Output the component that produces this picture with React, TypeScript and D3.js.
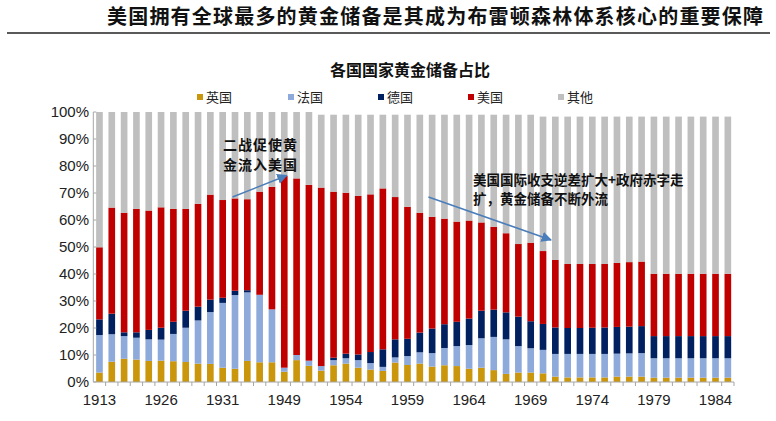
import React from "react";
import * as d3 from "d3";

const years = [
  "1913", "1921", "1922", "1923", "1924", "1926", "1927", "1928", "1929", "1930",
  "1931", "1932", "1935", "1938", "1945", "1949", "1950", "1951", "1952", "1953",
  "1954", "1955", "1956", "1957", "1958", "1959", "1960", "1961", "1962", "1963",
  "1964", "1965", "1966", "1967", "1968", "1969", "1970", "1971", "1972", "1973",
  "1974", "1975", "1976", "1977", "1978", "1979", "1980", "1981", "1982", "1983",
  "1984", "1985",
];
const tickYears = ["1913", "1926", "1931", "1949", "1954", "1959", "1964", "1969", "1974", "1979", "1984"];

const uk = [3.5, 7.5, 8.6, 8.3, 7.8, 7.9, 7.7, 7.4, 6.8, 6.7, 5.3, 4.9, 7.8, 7.3, 7.3, 3.8, 8.1, 6.0, 4.2, 6.2,
  6.8, 5.3, 4.6, 4.1, 7.2, 6.3, 6.8, 5.7, 6.2, 5.9, 4.9, 5.3, 4.4, 3.0, 3.5, 3.5, 3.2, 2.0, 1.7, 1.7,
  1.7, 1.7, 2.0, 2.0, 2.0, 1.6, 1.6, 1.6, 1.6, 1.6, 1.6, 1.6];
const france = [13.9, 10.2, 8.4, 8.1, 8.0, 7.8, 10.1, 12.7, 16.0, 19.2, 24.0, 27.3, 25.4, 25.0, 19.6, 1.5, 1.9, 1.9, 1.7, 1.9,
  2.0, 2.8, 2.4, 1.5, 1.9, 3.3, 4.2, 5.0, 6.4, 7.4, 8.8, 10.9, 12.3, 12.8, 9.8, 9.0, 8.7, 8.4, 8.7, 8.7,
  8.7, 8.7, 8.5, 8.6, 8.7, 7.2, 7.2, 7.2, 7.2, 7.2, 7.2, 7.2];
const germany = [5.8, 7.6, 1.4, 2.0, 3.5, 4.4, 4.5, 6.3, 5.1, 4.6, 1.9, 1.6, 0.8, 0, 0, 0, 0, 0, 0, 0.9,
  1.7, 2.1, 4.1, 6.5, 6.7, 6.4, 7.3, 9.1, 8.8, 9.0, 9.8, 10.2, 10.1, 10.0, 10.9, 10.0, 9.6, 9.8, 9.6, 9.6,
  9.7, 9.8, 9.9, 9.9, 10.0, 8.2, 8.2, 8.2, 8.2, 8.2, 8.2, 8.2];
const usa = [26.7, 39.3, 44.3, 45.7, 44.2, 44.6, 41.8, 37.7, 38.1, 38.9, 36.2, 34.2, 33.7, 38.2, 45.4, 71.0, 65.4, 65.1, 66.1, 61.5,
  59.6, 58.7, 58.4, 59.6, 52.7, 48.9, 44.4, 41.4, 39.1, 37.1, 36.3, 32.7, 30.7, 29.3, 26.9, 29.1, 27.0, 25.0, 23.7, 23.7,
  23.6, 23.5, 23.7, 23.9, 23.9, 23.1, 23.1, 23.1, 23.1, 23.1, 23.1, 23.1];
const others = [50.1, 35.4, 37.3, 35.9, 36.5, 35.3, 35.9, 35.9, 34.0, 30.6, 32.6, 32.0, 32.3, 29.5, 27.7, 23.7, 24.6, 27.0, 27.0, 28.5,
  28.9, 30.1, 29.5, 27.3, 30.5, 34.1, 36.3, 37.8, 38.5, 39.6, 39.2, 39.9, 41.5, 43.9, 47.9, 47.4, 49.8, 53.1, 54.6, 54.6,
  54.6, 54.6, 54.2, 53.9, 53.7, 58.2, 58.2, 58.2, 58.2, 58.2, 58.2, 58.2];

const seriesNames = ["英国", "法国", "德国", "美国", "其他"];
const seriesColors = ["#C9960C", "#8EAADB", "#002060", "#C00000", "#BFBFBF"];
const yTicks = [0, 10, 20, 30, 40, 50, 60, 70, 80, 90, 100];

const pageTitle = "美国拥有全球最多的黄金储备是其成为布雷顿森林体系核心的重要保障";
const chartTitle = "各国国家黄金储备占比";
const note1 = ["二战促使黄", "金流入美国"];
const note2 = ["美国国际收支逆差扩大+政府赤字走", "扩，黄金储备不断外流"];

const W = 776;
const H = 421;
const M = { left: 93.3, right: 734, top: 112, bottom: 382 };

export default function App() {
  const rows = years.map((y, i) => ({
    year: y,
    s0: uk[i], s1: france[i], s2: germany[i], s3: usa[i], s4: others[i],
  }));
  const keys = ["s0", "s1", "s2", "s3", "s4"];
  const stacked = d3.stack<any>().keys(keys)(rows);

  const x = d3.scaleBand<string>().domain(years).range([M.left, M.right]).paddingInner(0.46).paddingOuter(0.23);
  const y = d3.scaleLinear().domain([0, 100]).range([M.bottom, M.top]);
  const step = x.step();
  const bw = x.bandwidth();
  const cx = (yr: string, off = 0) => (x(yr) as number) + bw / 2 + off * step;

  const sans = "'Liberation Sans', Arial, sans-serif";
  const cjk = "'Noto Sans CJK SC', sans-serif";

  const legendX = [197, 288, 378, 468, 558];

  // annotation anchors via scales
  const a1 = { x1: cx("1931", 0.8), y1: y(68.5), x2: cx("1949", 0.2), y2: y(76.5) };
  const a2 = { x1: cx("1958", 2.7), y1: y(68.5), x2: cx("1969", 1.65), y2: y(52.6) };

  return (
    <svg width={W} height={H} style={{ position: "absolute", left: 0, top: 0, background: "#fff" }}>
      <defs>
        <marker id="arr" viewBox="0 0 10 10" refX="9" refY="5" markerWidth="7" markerHeight="7" orient="auto-start-reverse">
          <path d="M0,0 L10,5 L0,10 z" fill="#4A7EBB" />
        </marker>
      </defs>
      <text x={107} y={24} fontFamily={cjk} fontWeight={700} fontSize={20} letterSpacing={1.2} fill="#111">
        {pageTitle}
      </text>
      <line x1={7} x2={770} y1={33} y2={33} stroke="#595959" strokeWidth={2} />

      <text x={410} y={76} textAnchor="middle" fontFamily={cjk} fontWeight={700} fontSize={16} fill="#111">
        {chartTitle}
      </text>
      {seriesNames.map((n, i) => (
        <g key={n}>
          <rect x={legendX[i]} y={94} width={6} height={6} fill={seriesColors[i]} />
          <text x={legendX[i] + 9} y={102} fontFamily={cjk} fontSize={13} fill="#222">{n}</text>
        </g>
      ))}

      {stacked.map((s, si) => (
        <g key={si} fill={seriesColors[si]}>
          {s.map((d: any, i: number) => (
            <rect key={i} x={x(years[i])} width={bw} y={y(d[1])} height={Math.max(0, y(d[0]) - y(d[1]))} />
          ))}
        </g>
      ))}

      {/* y axis */}
      <line x1={M.left} x2={M.left} y1={M.top} y2={M.bottom} stroke="#A6A6A6" />
      {yTicks.map((t) => (
        <g key={t}>
          <line x1={M.left} x2={M.left + 3} y1={y(t)} y2={y(t)} stroke="#A6A6A6" />
          <text x={89} y={y(t) + 5} textAnchor="end" fontFamily={sans} fontSize={15} fill="#222">{t}%</text>
        </g>
      ))}

      {/* x axis */}
      <line x1={M.left} x2={M.right} y1={M.bottom} y2={M.bottom} stroke="#A6A6A6" />
      {years.map((yr, i) => (
        <line key={yr} x1={M.left + (i + 1) * step} x2={M.left + (i + 1) * step} y1={M.bottom} y2={M.bottom + 4} stroke="#A6A6A6" />
      ))}
      {tickYears.map((yr) => (
        <text key={yr} x={cx(yr)} y={405} textAnchor="middle" fontFamily={sans} fontSize={15} fill="#222">{yr}</text>
      ))}

      {/* annotations */}
      <line x1={a1.x1} y1={a1.y1} x2={a1.x2} y2={a1.y2} stroke="#4A7EBB" strokeWidth={1.5} markerEnd="url(#arr)" />
      <line x1={a2.x1} y1={a2.y1} x2={a2.x2} y2={a2.y2} stroke="#4A7EBB" strokeWidth={1.5} markerEnd="url(#arr)" />
      {note1.map((t, i) => (
        <text key={t} x={223} y={150 + i * 20} fontFamily={cjk} fontWeight={700} fontSize={14} letterSpacing={1} fill="#111">{t}</text>
      ))}
      {note2.map((t, i) => (
        <text key={t} x={473} y={185 + i * 19} fontFamily={cjk} fontWeight={700} fontSize={13.5} fill="#111">{t}</text>
      ))}
    </svg>
  );
}
